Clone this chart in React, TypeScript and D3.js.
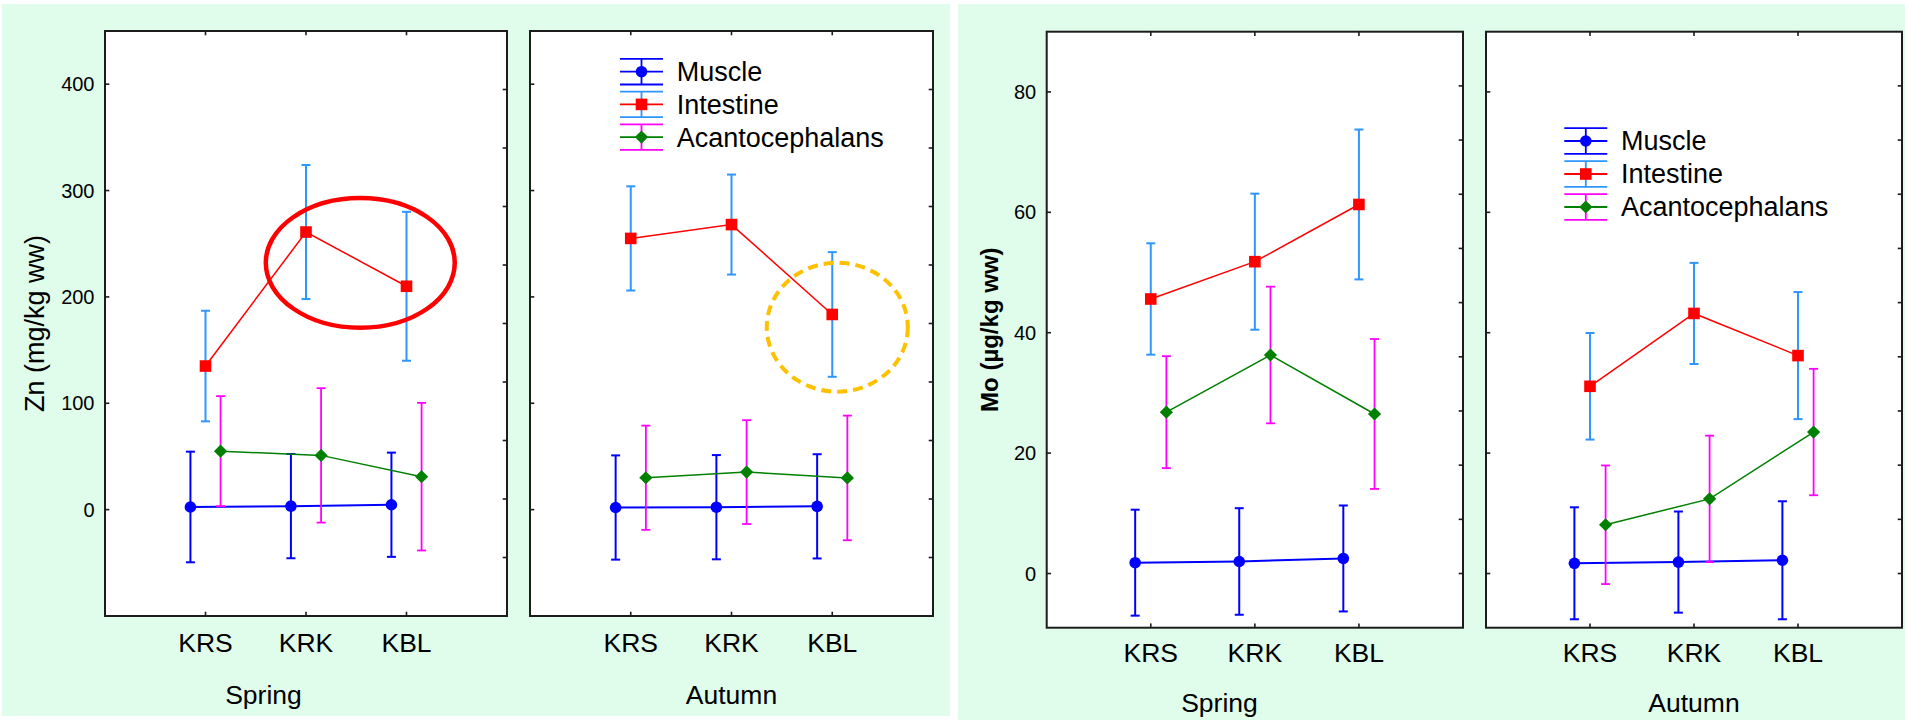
import React from "react";
import * as d3 from "d3";

// ---------- data ----------
const categories = ["KRS", "KRK", "KBL"];
const seasons = ["Spring", "Autumn"];
const seriesNames = ["Muscle", "Intestine", "Acantocephalans"];

const znTicks = [0, 100, 200, 300, 400];
const moTicks = [0, 20, 40, 60, 80];

// Zn (mg/kg ww) – Spring
const znSpringMuscle = [2.5, 3.3, 4.6];
const znSpringMuscleErr = [52, 49, 49];
const znSpringIntestine = [135, 261, 210];
const znSpringIntestineErr = [52, 63, 70];
const znSpringAcanto = [55, 51, 31];
const znSpringAcantoErr = [51.7, 63.2, 69.4];

// Zn – Autumn
const znAutumnMuscle = [2, 2.3, 3.1];
const znAutumnMuscleErr = [49, 49, 49];
const znAutumnIntestine = [255, 268, 183.5];
const znAutumnIntestineErr = [49, 47, 58.6];
const znAutumnAcanto = [30, 35.3, 29.8];
const znAutumnAcantoErr = [49, 48.8, 58.6];

// Mo (µg/kg ww) – Spring
const moSpringMuscle = [1.8, 2.0, 2.5];
const moSpringMuscleErr = [8.8, 8.85, 8.8];
const moSpringIntestine = [45.6, 51.8, 61.3];
const moSpringIntestineErr = [9.25, 11.3, 12.45];
const moSpringAcanto = [26.8, 36.3, 26.5];
const moSpringAcantoErr = [9.3, 11.35, 12.45];

// Mo – Autumn
const moAutumnMuscle = [1.7, 1.9, 2.2];
const moAutumnMuscleErr = [9.3, 8.4, 9.8];
const moAutumnIntestine = [31.1, 43.2, 36.2];
const moAutumnIntestineErr = [8.85, 8.4, 10.55];
const moAutumnAcanto = [8.1, 12.4, 23.5];
const moAutumnAcantoErr = [9.85, 10.5, 10.5];

// highlight annotations (in data coordinates of their panel)
const znSpringEllipse = { cx: 2.54, cy: 232, rx: 0.94, ry: 61 };
const znAutumnCircle = { cx: 3.05, cy: 171.5, rx: 0.7, ry: 60.6 };

// ---------- styling ----------
const FONT = "'Liberation Sans', Arial, Helvetica, sans-serif";
const BG = "#e0fcea";
const seriesStyle = [
  { line: "#0000ff", err: "#0000ff", marker: "circle", fill: "#0000ff", offset: -0.15, lw: 2, ew: 2 },
  { line: "#ff0000", err: "#2f96ff", marker: "square", fill: "#ff0000", offset: 0, lw: 1.5, ew: 2 },
  { line: "#008000", err: "#ff00ff", marker: "diamond", fill: "#008000", offset: 0.15, lw: 1.5, ew: 1.8 },
];

type Series = { mean: number[]; err: number[] };

function Marker({ kind, x, y, fill }: { kind: string; x: number; y: number; fill: string }) {
  if (kind === "circle") return <circle cx={x} cy={y} r={5.8} fill={fill} />;
  if (kind === "square") return <rect x={x - 5.8} y={y - 5.8} width={11.6} height={11.6} fill={fill} />;
  const s = 6.6;
  return <path d={`M${x},${y - s}L${x + s},${y}L${x},${y + s}L${x - s},${y}Z`} fill={fill} />;
}

function Panel(props: {
  x0: number; x1: number; top: number; bottom: number;
  domain: [number, number]; ticks: number[]; labels: boolean; rightDiv: number;
  series: Series[]; catBaseline: number;
  legend?: { dx: number; y0: number; dy: number };
  annotations?: React.ReactNode;
  annot?: { e?: any; c?: any };
}) {
  const { x0, x1, top, bottom, domain, ticks, labels, rightDiv, series, catBaseline, legend, annot } = props;
  const x = d3.scaleLinear().domain([0, 4]).range([x0, x1]);
  const y = d3.scaleLinear().domain(domain).range([bottom, top]);
  const line = d3.line<[number, number]>().x((d) => d[0]).y((d) => d[1]);
  const tl = 4.3;
  const fracs = d3.range(1, rightDiv).map((k) => top + ((bottom - top) * k) / rightDiv);
  return (
    <g>
      <rect x={x0} y={top} width={x1 - x0} height={bottom - top} fill="#ffffff" />
      {/* series */}
      {series.map((s, si) => {
        const st = seriesStyle[si];
        const pts: [number, number][] = s.mean.map((m, i) => [x(i + 1 + st.offset), y(m)]);
        return (
          <g key={si}>
            {s.mean.map((m, i) => {
              const cx = x(i + 1 + st.offset);
              const yt = y(m + s.err[i]);
              const yb = y(m - s.err[i]);
              return (
                <g key={i} stroke={st.err} strokeWidth={st.ew} fill="none">
                  <line x1={cx} x2={cx} y1={yt} y2={yb} />
                  <line x1={cx - 4.5} x2={cx + 4.5} y1={yt} y2={yt} />
                  <line x1={cx - 4.5} x2={cx + 4.5} y1={yb} y2={yb} />
                </g>
              );
            })}
            <path d={line(pts) || ""} stroke={st.line} strokeWidth={st.lw} fill="none" />
            {pts.map((p, i) => (
              <Marker key={i} kind={st.marker} x={p[0]} y={p[1]} fill={st.fill} />
            ))}
          </g>
        );
      })}
      {/* annotations */}
      {annot && annot.e && (
        <ellipse
          cx={x(annot.e.cx)} cy={y(annot.e.cy)}
          rx={x(annot.e.cx + annot.e.rx) - x(annot.e.cx)}
          ry={y(annot.e.cy - annot.e.ry) - y(annot.e.cy)}
          fill="none" stroke="#ff0000" strokeWidth={4.5}
        />
      )}
      {annot && annot.c && (
        <ellipse
          cx={x(annot.c.cx)} cy={y(annot.c.cy)}
          rx={x(annot.c.cx + annot.c.rx) - x(annot.c.cx)}
          ry={y(annot.c.cy - annot.c.ry) - y(annot.c.cy)}
          fill="none" stroke="#ffc000" strokeWidth={4} strokeDasharray="10 6"
        />
      )}
      {/* legend */}
      {legend && (
        <g>
          {seriesNames.map((name, i) => {
            const st = seriesStyle[i];
            const lx = x0 + legend.dx;
            const cy = legend.y0 + i * legend.dy;
            const w = 43;
            const cx = lx + w / 2;
            return (
              <g key={name}>
                <g stroke={st.err} strokeWidth={1.8}>
                  <line x1={lx} x2={lx + w} y1={cy - 12.8} y2={cy - 12.8} />
                  <line x1={lx} x2={lx + w} y1={cy + 12.8} y2={cy + 12.8} />
                  <line x1={cx} x2={cx} y1={cy - 12.8} y2={cy + 12.8} />
                </g>
                <line x1={lx} x2={lx + w} y1={cy} y2={cy} stroke={st.line} strokeWidth={1.8} />
                <Marker kind={st.marker} x={cx} y={cy} fill={st.fill} />
                <text x={lx + 56.7} y={cy} dy="0.35em" fontSize={27} fontFamily={FONT} fill="#000">
                  {name}
                </text>
              </g>
            );
          })}
        </g>
      )}
      {/* frame */}
      <rect x={x0} y={top} width={x1 - x0} height={bottom - top} fill="none" stroke="#1c1c1c" strokeWidth={2} />
      {/* y ticks on left */}
      {ticks.map((t) => (
        <g key={t}>
          <line x1={x0} x2={x0 + tl} y1={y(t)} y2={y(t)} stroke="#1c1c1c" strokeWidth={1.6} />
          {labels && (
            <text x={x0 - 10.5} y={y(t)} dy="0.35em" textAnchor="end" fontSize={20} fontFamily={FONT} fill="#000">
              {t}
            </text>
          )}
        </g>
      ))}
      {/* right ticks */}
      {fracs.map((fy, i) => (
        <line key={i} x1={x1 - tl} x2={x1} y1={fy} y2={fy} stroke="#1c1c1c" strokeWidth={1.6} />
      ))}
      {/* category ticks and labels */}
      {categories.map((c, i) => (
        <g key={c}>
          <line x1={x(i + 1)} x2={x(i + 1)} y1={top} y2={top + tl} stroke="#1c1c1c" strokeWidth={1.6} />
          <line x1={x(i + 1)} x2={x(i + 1)} y1={bottom} y2={bottom - tl} stroke="#1c1c1c" strokeWidth={1.6} />
          <text x={x(i + 1)} y={catBaseline} textAnchor="middle" fontSize={26.5} fontFamily={FONT} fill="#000">
            {c}
          </text>
        </g>
      ))}
    </g>
  );
}

function Figure(props: {
  bg: [number, number, number, number];
  top: number; bottom: number; domain: [number, number]; ticks: number[]; rightDiv: number;
  panelsX: [number, number][]; data: Series[][]; title: string; titleBold: boolean; titleSize: number;
  titleX: number; catBaseline: number; seasonBaseline: number;
  legend: { dx: number; y0: number; dy: number }; annots: any[];
}) {
  const p = props;
  const titleY = (p.top + p.bottom) / 2 + 0;
  return (
    <g>
      <rect x={p.bg[0]} y={p.bg[1]} width={p.bg[2]} height={p.bg[3]} fill={BG} />
      <text
        transform={`translate(${p.titleX},${titleY}) rotate(-90)`}
        textAnchor="middle" fontSize={p.titleSize} fontFamily={FONT}
        fontWeight={p.titleBold ? "bold" : "normal"} fill="#000"
      >
        {p.title}
      </text>
      {p.panelsX.map((px, k) => (
        <g key={k}>
          <Panel
            x0={px[0]} x1={px[1]} top={p.top} bottom={p.bottom} domain={p.domain} ticks={p.ticks}
            labels={k === 0} rightDiv={p.rightDiv} series={p.data[k]} catBaseline={p.catBaseline}
            legend={k === 1 ? p.legend : undefined} annot={p.annots[k]}
          />
          <text
            x={k === 0 ? (p.bg[0] + 18 + px[1]) / 2 : (px[0] + px[1]) / 2}
            y={p.seasonBaseline} textAnchor="middle" fontSize={26.5} fontFamily={FONT} fill="#000"
          >
            {seasons[k]}
          </text>
        </g>
      ))}
    </g>
  );
}

export default function App() {
  const znData: Series[][] = [
    [
      { mean: znSpringMuscle, err: znSpringMuscleErr },
      { mean: znSpringIntestine, err: znSpringIntestineErr },
      { mean: znSpringAcanto, err: znSpringAcantoErr },
    ],
    [
      { mean: znAutumnMuscle, err: znAutumnMuscleErr },
      { mean: znAutumnIntestine, err: znAutumnIntestineErr },
      { mean: znAutumnAcanto, err: znAutumnAcantoErr },
    ],
  ];
  const moData: Series[][] = [
    [
      { mean: moSpringMuscle, err: moSpringMuscleErr },
      { mean: moSpringIntestine, err: moSpringIntestineErr },
      { mean: moSpringAcanto, err: moSpringAcantoErr },
    ],
    [
      { mean: moAutumnMuscle, err: moAutumnMuscleErr },
      { mean: moAutumnIntestine, err: moAutumnIntestineErr },
      { mean: moAutumnAcanto, err: moAutumnAcantoErr },
    ],
  ];
  return (
    <svg
      width={1905} height={720} viewBox="0 0 1905 720"
      style={{ position: "absolute", left: 0, top: 0, background: "#ffffff" }}
    >
      <Figure
        bg={[2, 4, 948, 712]} top={31} bottom={616} domain={[-100, 450]} ticks={znTicks} rightDiv={10}
        panelsX={[[105, 507], [530, 933]]} data={znData} title="Zn (mg/kg ww)" titleBold={false}
        titleSize={27} titleX={43.5} catBaseline={652} seasonBaseline={703.5}
        legend={{ dx: 90, y0: 71.7, dy: 32.7 }}
        annots={[{ e: znSpringEllipse }, { c: znAutumnCircle }]}
      />
      <Figure
        bg={[958, 4, 947, 716]} top={31.7} bottom={627.7} domain={[-9, 90]} ticks={moTicks} rightDiv={11}
        panelsX={[[1046.7, 1463], [1486, 1902]]} data={moData} title="Mo (µg/kg ww)" titleBold={true}
        titleSize={24} titleX={998} catBaseline={661.7} seasonBaseline={711.7}
        legend={{ dx: 78.3, y0: 141, dy: 33 }}
        annots={[undefined, undefined]}
      />
    </svg>
  );
}
